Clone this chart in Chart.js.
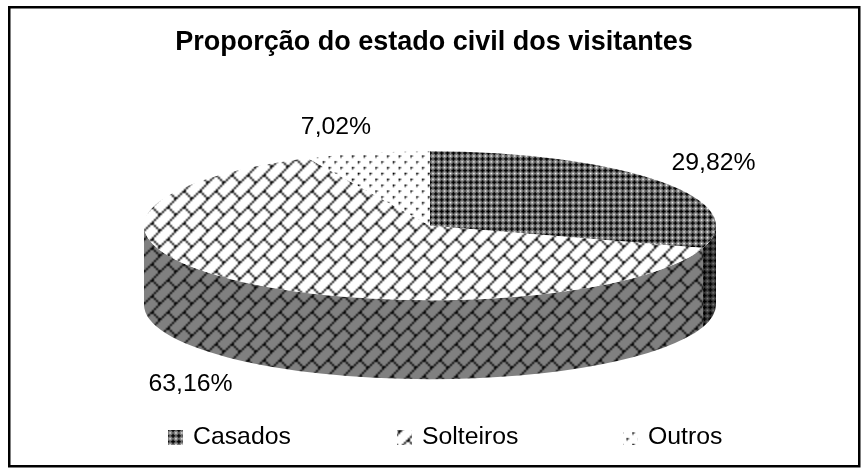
<!DOCTYPE html>
<html><head><meta charset="utf-8">
<style>html,body{margin:0;padding:0;background:#fff}#w{width:868px;height:476px}canvas{display:block}</style>
<script src="https://cdn.jsdelivr.net/npm/chart.js@4/dist/chart.umd.min.js"></script>
</head><body><div id="w"><canvas id="c" width="868" height="476"></canvas></div>
<script>
const titleText = 'Proporção do estado civil dos visitantes';
const categories = ['Casados', 'Solteiros', 'Outros'];
const shares = [29.82, 63.16, 7.02];

const FONT = '"Liberation Sans", Arial, sans-serif';
const SQUASH = 74.5 / 286, DEPTH = 79;
const SCALES = [1.46, 2, 1.46];
const labelPos = [[713.5, 163], [190.5, 384], [336, 127]];
const legendPos = [[168, 193], [397, 422], [623, 648]];

function tile(rows) {
  const h = rows.length, w = rows[0].length;
  const c = document.createElement('canvas'); c.width = w; c.height = h;
  const x = c.getContext('2d');
  rows.forEach((r, j) => [...r].forEach((p, i) => {
    if (p === '0') return;
    x.fillStyle = p === '1' ? '#000' : 'rgba(0,0,0,0.5)';
    x.fillRect(i, j, 1, 1);
  }));
  return c;
}
const tiles = [
  tile(['0222', '2212', '2111', '2212']),
  tile(['00000001', '00000010', '00000100', '00001000', '00011000', '00100100', '01000010', '10000001']),
  tile(['01200000', '02000000', '00000000', '00000000', '00000120', '00000200', '00000000', '00000000'])
];
function patternOn(bg, t, s, sy) {
  const c = document.createElement('canvas'); c.width = t.width * 4; c.height = t.height * 4;
  const x = c.getContext('2d');
  x.fillStyle = bg; x.fillRect(0, 0, c.width, c.height);
  for (let i = 0; i < 4; i++) for (let j = 0; j < 4; j++) x.drawImage(t, i * t.width, j * t.height);
  const p = x.createPattern(c, 'repeat');
  p.setTransform(new DOMMatrix().scale(s, s / sy));
  return p;
}
const topFills = tiles.map((t, i) => patternOn('#fff', t, SCALES[i], SQUASH));
const wallFills = tiles.map((t, i) => patternOn('#808080', t, SCALES[i], 1));
const flatFills = tiles.map((t, i) => patternOn('#fff', t, SCALES[i], 1));

const scene = {
  id: 'scene',
  afterLayout(chart) { chart.chartArea.right -= 8; chart.chartArea.width -= 8; },
  beforeDraw(chart) {
    const ctx = chart.ctx; ctx.save();
    ctx.fillStyle = '#fff'; ctx.fillRect(0, 0, 868, 476);
    ctx.strokeStyle = '#000'; ctx.lineWidth = 2.5;
    ctx.strokeRect(9.25, 7.25, 850, 459);
    ctx.restore();
  },
  beforeDatasetsDraw(chart) {
    const ctx = chart.ctx;
    chart.getDatasetMeta(0).data.forEach((arc, i) => {
      const a = Math.max(arc.startAngle, 0), b = Math.min(arc.endAngle, Math.PI);
      if (b <= a) return;
      const r = arc.outerRadius, ry = r * SQUASH;
      ctx.beginPath();
      ctx.ellipse(arc.x, arc.y, r, ry, 0, a, b);
      ctx.ellipse(arc.x, arc.y + DEPTH, r, ry, 0, b, a, true);
      ctx.closePath();
      ctx.fillStyle = wallFills[i]; ctx.fill();
    });
    const m = chart.getDatasetMeta(0).data[0];
    ctx.save();
    ctx.translate(0, m.y); ctx.scale(1, SQUASH); ctx.translate(0, -m.y);
  },
  afterDatasetsDraw(chart) {
    const ctx = chart.ctx; ctx.restore();
    ctx.save();
    ctx.fillStyle = '#000'; ctx.textBaseline = 'middle'; ctx.textAlign = 'center';
    ctx.font = '24.8px ' + FONT;
    shares.forEach((v, i) => ctx.fillText(v.toFixed(2).replace('.', ',') + '%', labelPos[i][0], labelPos[i][1]));
    ctx.textAlign = 'left';
    categories.forEach((name, i) => {
      ctx.fillStyle = flatFills[i]; ctx.fillRect(legendPos[i][0], 430, 15, 15);
      ctx.fillStyle = '#000'; ctx.fillText(name, legendPos[i][1], 437);
    });
    ctx.restore();
  }
};

new Chart(document.getElementById('c'), {
  type: 'pie',
  data: { labels: categories, datasets: [{ data: shares, backgroundColor: topFills, borderWidth: 0, clip: false, radius: 286 }] },
  plugins: [scene],
  options: {
    responsive: false, animation: false, events: [],
    layout: { padding: { top: 0, bottom: 97, left: 0, right: 0 } },
    plugins: {
      legend: { display: false }, tooltip: { enabled: false },
      title: { display: true, text: titleText, color: '#000', font: { family: FONT, size: 27, weight: 'bold' }, padding: { top: 26, bottom: 14 } }
    }
  }
});
</script></body></html>
